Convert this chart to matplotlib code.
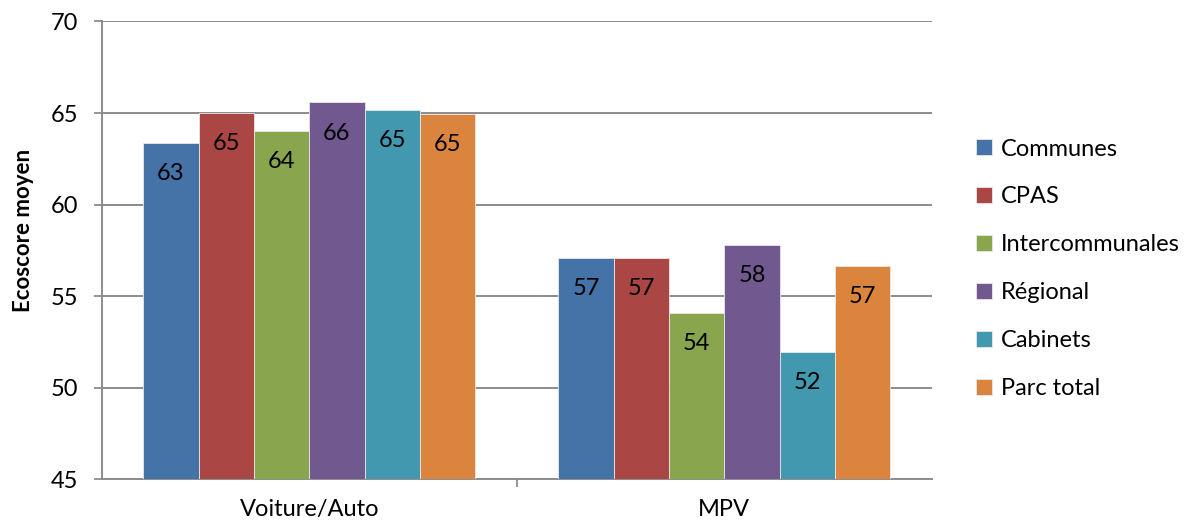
#!/usr/bin/env python3
"""Ecoscore moyen par type de véhicule et par entité (grouped bars)."""

import numpy as np
import matplotlib
matplotlib.use('Agg')
import matplotlib.pyplot as plt

plt.rcParams['font.family'] = ['Lato', 'DejaVu Sans']

# ---------------------------------------------------------------------------
# Data
# ---------------------------------------------------------------------------

categories = ['Voiture/Auto', 'MPV']
series = ['Communes', 'CPAS', 'Intercommunales', 'Régional', 'Cabinets', 'Parc total']

communes        = [63.36, 57.08]
cpas            = [65.00, 57.10]
intercommunales = [64.00, 54.09]
regional        = [65.58, 57.80]
cabinets        = [65.18, 51.96]
parc_total      = [64.96, 56.66]

values = [communes, cpas, intercommunales, regional, cabinets, parc_total]
colors = ['#4572A7', '#AA4643', '#89A54E', '#71588F', '#4198AF', '#DB843D']

y_ticks = [45, 50, 55, 60, 65, 70]

# ---------------------------------------------------------------------------
# Plot
# ---------------------------------------------------------------------------

GRID = '#8c8c8c'
FS = 17

fig = plt.figure(figsize=(11.88, 5.23), dpi=100)
ax = fig.add_axes([0.0856, 0.0832, 0.6987, 0.8757])

x = np.arange(len(categories))
n = len(series)
group_w = 0.8
bw = group_w / n

for i, (name, vals, col) in enumerate(zip(series, values, colors)):
    xs = x - group_w / 2 + bw * (i + 0.5)
    ax.bar(xs, np.array(vals) - 45, bw, bottom=45, color=col,
           edgecolor='#e8e8e8', linewidth=0.6, label=name, zorder=3)
    for xi, v in zip(xs, vals):
        ax.annotate(f'{v:.0f}', (xi, v), xytext=(0, -22),
                    textcoords='offset points', ha='center', va='center',
                    fontsize=FS, color='black', zorder=4)

ax.set_ylim(45, 70)
ax.set_xlim(-0.5, len(categories) - 0.5)
ax.set_yticks(y_ticks)
ax.tick_params(axis='y', labelsize=FS, length=6, width=1.3, color=GRID, pad=11)
ax.yaxis.grid(True, color=GRID, linewidth=1.4, zorder=0)
ax.set_axisbelow(True)

# separator tick between categories, labels on minor ticks
ax.set_xticks([0.5])
ax.set_xticklabels([''])
ax.tick_params(axis='x', which='major', length=6, width=1.3, color=GRID)
ax.set_xticks(x, minor=True)
ax.set_xticklabels(categories, minor=True)
ax.tick_params(axis='x', which='minor', length=0, labelsize=FS, pad=14)

for s in ('top', 'right'):
    ax.spines[s].set_visible(False)
for s in ('left', 'bottom'):
    ax.spines[s].set_color(GRID)
    ax.spines[s].set_linewidth(1.4)

ax.set_ylabel('Ecoscore moyen', fontsize=16, fontweight='bold', labelpad=12,
              y=0.544)

leg = ax.legend(loc='center left', bbox_to_anchor=(1.028, 0.46), frameon=False,
                fontsize=FS, handlelength=0.65, handleheight=0.65,
                handletextpad=0.4, labelspacing=1.14)

fig.savefig('out.png', dpi=100)
